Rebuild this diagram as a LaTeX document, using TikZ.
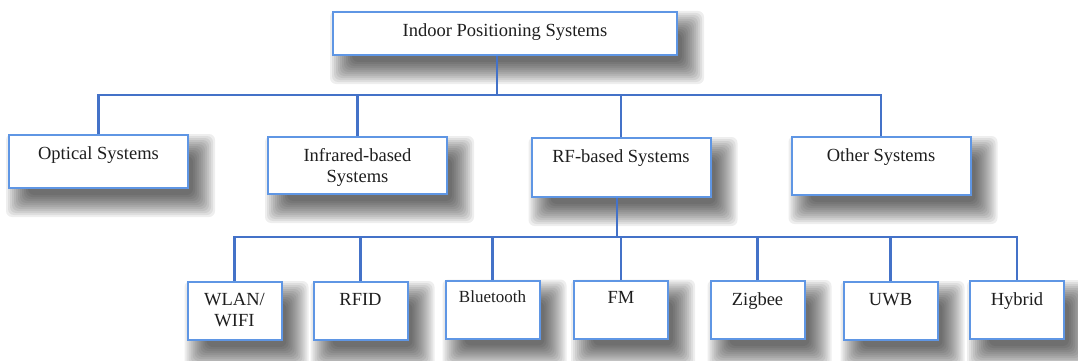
\documentclass[tikz,border=0pt]{standalone}
\usepackage{fontspec}
\setmainfont{Liberation Serif}
\usetikzlibrary{backgrounds}
\definecolor{boxline}{RGB}{95,150,228}
\definecolor{wire}{RGB}{68,114,200}
\definecolor{ink}{RGB}{30,30,30}
\begin{document}
\begin{tikzpicture}[x=1pt,y=-1pt,
  box/.style={draw=boxline, line width=2pt, fill=white, inner sep=0pt},
  wide/.style={box, minimum width=179pt},
  small/.style={box, minimum width=94pt, minimum height=58pt},
  lbl/.style={anchor=north, inner sep=0pt, align=center, text=ink,
    font=\fontsize{18.5}{21}\selectfont},
  down/.style={yshift=-12pt},
  haze/.style={fill=black, opacity=0.065, rounded corners=6pt},
  conn/.style={draw=wire, line width=2.8pt}]
\useasboundingbox (0,0) rectangle (1078,361);

% root
\node[box, minimum width=344pt, minimum height=43pt] (top) at (505,33.5) {};
\node[lbl, anchor=center, yshift=1pt] (topt) at (top.center) {Indoor Positioning Systems};

% second level
\node[wide, minimum height=53pt] (opt) at (98.5,161.5) {};
\node[lbl, down] (optt) at (opt.north) {Optical Systems};
\node[wide, minimum height=57pt] (inf) at (357.5,165.5) {};
\node[lbl, down] (inft) at (inf.north) {Infrared-based\\Systems};
\node[wide, minimum height=59pt] (rf) at (621,167.5) {};
\node[lbl, down] (rft) at (rf.north) {RF-based Systems};
\node[wide, minimum height=58pt] (oth) at (881,166) {};
\node[lbl, down] (otht) at (oth.north) {Other Systems};

% RF technologies
\node[small] (wlan) at (234.5,311) {};
\node[lbl, down] (wlant) at (wlan.north) {WLAN/\\WIFI};
\node[small] (rfid) at (360.5,311) {};
\node[lbl, down] (rfidt) at (rfid.north) {RFID};
\node[small] (bt) at (492.5,309.5) {};
\node[lbl, font=\fontsize{17}{20}\selectfont, yshift=-11pt] (btt) at (bt.north) {Bluetooth};
\node[small] (fm) at (621,309.5) {};
\node[lbl, down] (fmt) at (fm.north) {FM};
\node[small] (zig) at (757.5,310) {};
\node[lbl, down] (zigt) at (zig.north) {Zigbee};
\node[small] (uwb) at (890.5,311) {};
\node[lbl, down] (uwbt) at (uwb.north) {UWB};
\node[small] (hyb) at (1017,310) {};
\node[lbl, down] (hybt) at (hyb.north) {Hybrid};

% soft drop shadows, built from stacked translucent rectangles
\begin{scope}[on background layer]
  \foreach \n in {top,opt,inf,rf,oth,wlan,rfid,bt,fm,zig,uwb,hyb}
    \foreach \k in {0,...,11}
      \fill[haze] ([shift={({20-2*\k},{22-2*\k})}]\n.north west)
        rectangle ([shift={({4+2*\k},{6+2*\k})}]\n.south east);
\end{scope}

% connectors, root to second level
\coordinate (j1) at (497,95);
\draw[conn] (top.south -| j1) -- (j1);
\draw[conn] (opt.north) |- (j1) -| (oth.north);
\draw[conn] (inf.north) -- (inf.north |- j1);
\draw[conn] (rf.north) -- (rf.north |- j1);

% connectors, RF-based to technologies
\coordinate (j2) at (617,237);
\draw[conn] (rf.south -| j2) -- (j2);
\draw[conn] (wlan.north) |- (j2) -| (hyb.north);
\foreach \n in {rfid,bt,fm,zig,uwb}
  \draw[conn] (\n.north) -- (\n.north |- j2);
\end{tikzpicture}
\end{document}
